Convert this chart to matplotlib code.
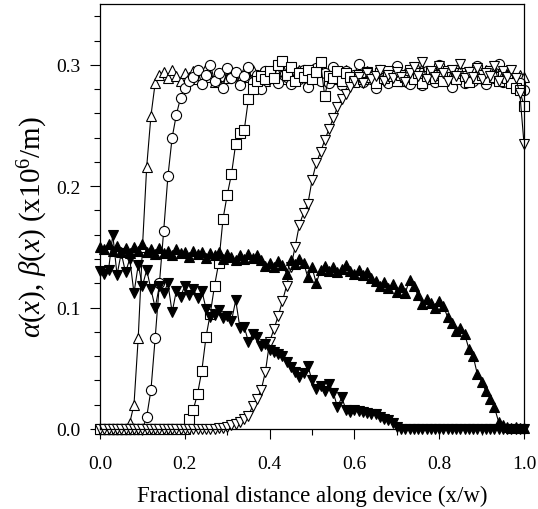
import numpy as np
import matplotlib
matplotlib.use("Agg")
import matplotlib.pyplot as plt
from matplotlib.ticker import MultipleLocator, FormatStrFormatter

plt.rcParams['font.family'] = ['Liberation Serif', 'DejaVu Serif']
plt.rcParams['mathtext.fontset'] = 'custom'
plt.rcParams['mathtext.rm'] = 'Liberation Serif'
plt.rcParams['mathtext.it'] = 'Liberation Serif:italic'

x_frac = np.linspace(0.0, 1.0, 101)

alpha_tri_up = [0, 0, 0, 0, 0, 0, 0, 0.005, 0.02, 0.075, 0.15, 0.216, 0.258, 0.285, 0.292,
    0.294, 0.289, 0.296, 0.291, 0.287, 0.293, 0.290, 0.295, 0.288, 0.292,
    0.297, 0.290, 0.286, 0.293, 0.291, 0.289, 0.295, 0.292, 0.288, 0.294,
    0.290, 0.296, 0.289, 0.293, 0.287, 0.292, 0.295, 0.290, 0.288, 0.294,
    0.291, 0.289, 0.296, 0.292, 0.287, 0.293, 0.290, 0.295, 0.289, 0.291,
    0.294, 0.288, 0.292, 0.296, 0.290, 0.287, 0.293, 0.291, 0.295, 0.289,
    0.292, 0.288, 0.294, 0.290, 0.296, 0.291, 0.287, 0.293, 0.289, 0.295,
    0.292, 0.290, 0.288, 0.294, 0.291, 0.296, 0.289, 0.293, 0.287, 0.292,
    0.295, 0.290, 0.288, 0.294, 0.291, 0.289, 0.296, 0.292, 0.290, 0.293,
    0.288, 0.294, 0.291, 0.289, 0.292, 0.290]

alpha_circle = [0, 0, 0, 0, 0, 0, 0, 0, 0, 0, 0,
    0.01, 0.032, 0.075, 0.12, 0.163, 0.208, 0.24, 0.259, 0.273, 0.281, 0.287,
    0.290, 0.296, 0.284, 0.292, 0.300, 0.287, 0.293, 0.281, 0.297, 0.289,
    0.294, 0.283, 0.291, 0.298, 0.286, 0.292, 0.280, 0.295, 0.289, 0.293,
    0.285, 0.299, 0.290, 0.284, 0.294, 0.288, 0.296, 0.282, 0.291, 0.297,
    0.287, 0.293, 0.285, 0.298, 0.290, 0.283, 0.295, 0.289, 0.292, 0.301,
    0.286, 0.294, 0.288, 0.281, 0.296, 0.290, 0.285, 0.293, 0.299, 0.287,
    0.292, 0.284, 0.297, 0.289, 0.283, 0.295, 0.291, 0.286, 0.300, 0.288,
    0.293, 0.282, 0.296, 0.290, 0.285, 0.294, 0.287, 0.299, 0.291, 0.284,
    0.295, 0.289, 0.301, 0.286, 0.292, 0.288, 0.283, 0.285, 0.279]

alpha_square = [0, 0, 0, 0, 0, 0, 0, 0, 0, 0, 0, 0, 0, 0, 0, 0, 0, 0, 0, 0, 0,
    0.008, 0.016, 0.029, 0.048, 0.076, 0.095, 0.118, 0.137, 0.173, 0.193,
    0.21, 0.235, 0.244, 0.246, 0.272, 0.28, 0.287,
    0.291, 0.288, 0.295, 0.289, 0.300, 0.303, 0.292, 0.298, 0.287, 0.293,
    0.290, 0.296, 0.288, 0.294, 0.302, 0.274, 0.291, 0.289, 0.295, 0.287,
    0.293, 0.290, 0.286, 0.292, 0.288, 0.294, 0.290, 0.285, 0.293, 0.289,
    0.295, 0.291, 0.287, 0.292, 0.290, 0.296, 0.288, 0.293, 0.285, 0.291,
    0.294, 0.289, 0.292, 0.287, 0.295, 0.290, 0.288, 0.293, 0.291, 0.286,
    0.294, 0.289, 0.292, 0.288, 0.295, 0.290, 0.287, 0.291, 0.289, 0.285,
    0.281, 0.279, 0.266]

alpha_tri_down = [0, 0, 0, 0, 0, 0, 0, 0, 0, 0, 0, 0, 0, 0, 0, 0, 0, 0, 0, 0,
    0, 0, 0, 0, 0, 0, 0, 0, 0.001, 0.001, 0.002, 0.003, 0.004, 0.006,
    0.008, 0.011, 0.019, 0.025, 0.032, 0.047, 0.072, 0.082, 0.093, 0.105,
    0.118, 0.133, 0.150, 0.168, 0.178, 0.185, 0.205, 0.219, 0.228, 0.238,
    0.247, 0.256, 0.265, 0.272, 0.276, 0.282, 0.287,
    0.290, 0.285, 0.293, 0.288, 0.291, 0.296, 0.287, 0.292, 0.289, 0.294,
    0.290, 0.286, 0.293, 0.298, 0.291, 0.302, 0.288, 0.295, 0.290, 0.299,
    0.293, 0.287, 0.296, 0.291, 0.301, 0.289, 0.294, 0.290, 0.297, 0.288,
    0.293, 0.291, 0.299, 0.287, 0.295, 0.290, 0.296, 0.289, 0.277, 0.235]

beta_tri_up = [0.150, 0.148, 0.152, 0.147, 0.151, 0.146, 0.149, 0.145, 0.150, 0.147,
    0.152, 0.146, 0.148, 0.144, 0.149, 0.145, 0.147, 0.143, 0.148, 0.145,
    0.146, 0.142, 0.147, 0.144, 0.146, 0.141, 0.145, 0.143, 0.146, 0.140,
    0.144, 0.142, 0.139, 0.143, 0.140, 0.144, 0.141, 0.143, 0.139, 0.134,
    0.137, 0.133, 0.138, 0.135, 0.128, 0.139, 0.136, 0.140, 0.137, 0.125,
    0.133, 0.120, 0.131, 0.134, 0.130, 0.133, 0.129, 0.132, 0.135, 0.130,
    0.128, 0.131, 0.127, 0.129, 0.124, 0.122, 0.118, 0.121, 0.116, 0.119,
    0.113, 0.117, 0.112, 0.123, 0.118, 0.110, 0.103, 0.107, 0.104, 0.100,
    0.105, 0.101, 0.092, 0.087, 0.081, 0.083, 0.078, 0.066, 0.060, 0.045,
    0.039, 0.031, 0.025, 0.018, 0.006, 0.003, 0.002, 0.001, 0.002, 0.001,
    0.001]

beta_tri_down = [0.130, 0.128, 0.131, 0.160, 0.127, 0.145, 0.129, 0.140, 0.112, 0.135,
    0.118, 0.131, 0.115, 0.100, 0.118, 0.112, 0.120, 0.096, 0.114, 0.109,
    0.118, 0.110, 0.115, 0.108, 0.114, 0.099, 0.092, 0.094, 0.098, 0.091,
    0.093, 0.089, 0.106, 0.083, 0.084, 0.072, 0.078, 0.076, 0.068, 0.070,
    0.065, 0.063, 0.062, 0.060, 0.055, 0.051, 0.047, 0.043, 0.046, 0.052,
    0.040, 0.033, 0.035, 0.031, 0.037, 0.030, 0.018, 0.026, 0.016, 0.014,
    0.016, 0.015, 0.014, 0.013, 0.012, 0.012, 0.010, 0.008, 0.007, 0.005,
    0.002, 0, 0, 0, 0, 0, 0, 0, 0, 0,
    0, 0, 0, 0, 0, 0, 0, 0, 0, 0,
    0, 0, 0, 0, 0, 0, 0, 0, 0, 0,
    0]

x_ticks = [0.0, 0.2, 0.4, 0.6, 0.8, 1.0]
y_ticks = [0.0, 0.1, 0.2, 0.3]

fig = plt.figure(figsize=(5.38, 5.10), dpi=100)
ax = fig.add_axes([0.186, 0.157, 0.788, 0.833])

ms = 7.3
lw = 0.8
open_kw = dict(color='black', lw=lw, mfc='white', mec='black', mew=0.8, ms=ms, clip_on=False)
ax.plot(x_frac, alpha_tri_up, marker='^', **open_kw)
ax.plot(x_frac, alpha_circle, marker='o', **open_kw)
ax.plot(x_frac, alpha_square, marker='s', **dict(open_kw, ms=6.5))
ax.plot(x_frac, alpha_tri_down, marker='v', **open_kw)
filled_kw = dict(color='black', lw=lw, mfc='black', mec='black', mew=0.8, ms=ms, clip_on=False)
ax.plot(x_frac, beta_tri_up, marker='^', **filled_kw)
ax.plot(x_frac, beta_tri_down, marker='v', **filled_kw)

ax.set_xlim(0.0, 1.0)
ax.set_ylim(0.0, 0.35)
ax.set_xticks(x_ticks)
ax.set_yticks(y_ticks)
ax.xaxis.set_minor_locator(MultipleLocator(0.1))
ax.yaxis.set_minor_locator(MultipleLocator(0.02))
ax.xaxis.set_major_formatter(FormatStrFormatter('%.1f'))
ax.yaxis.set_major_formatter(FormatStrFormatter('%.1f'))
ax.tick_params(which='both', direction='out', labelsize=14, width=0.8)
ax.tick_params(which='major', length=7)
ax.tick_params(which='minor', length=4)
ax.tick_params(axis='x', pad=12)
ax.tick_params(axis='y', pad=7)
for s in ax.spines.values():
    s.set_linewidth(0.9)

ax.set_xlabel('Fractional distance along device (x/w)', fontsize=16.5, labelpad=9)
ax.set_ylabel(r'$\alpha(x)$, $\beta(x)$ (x10$^{6}$/m)', fontsize=21)
ax.yaxis.set_label_coords(-0.118, 0.478)

fig.savefig('out.png', dpi=100)
